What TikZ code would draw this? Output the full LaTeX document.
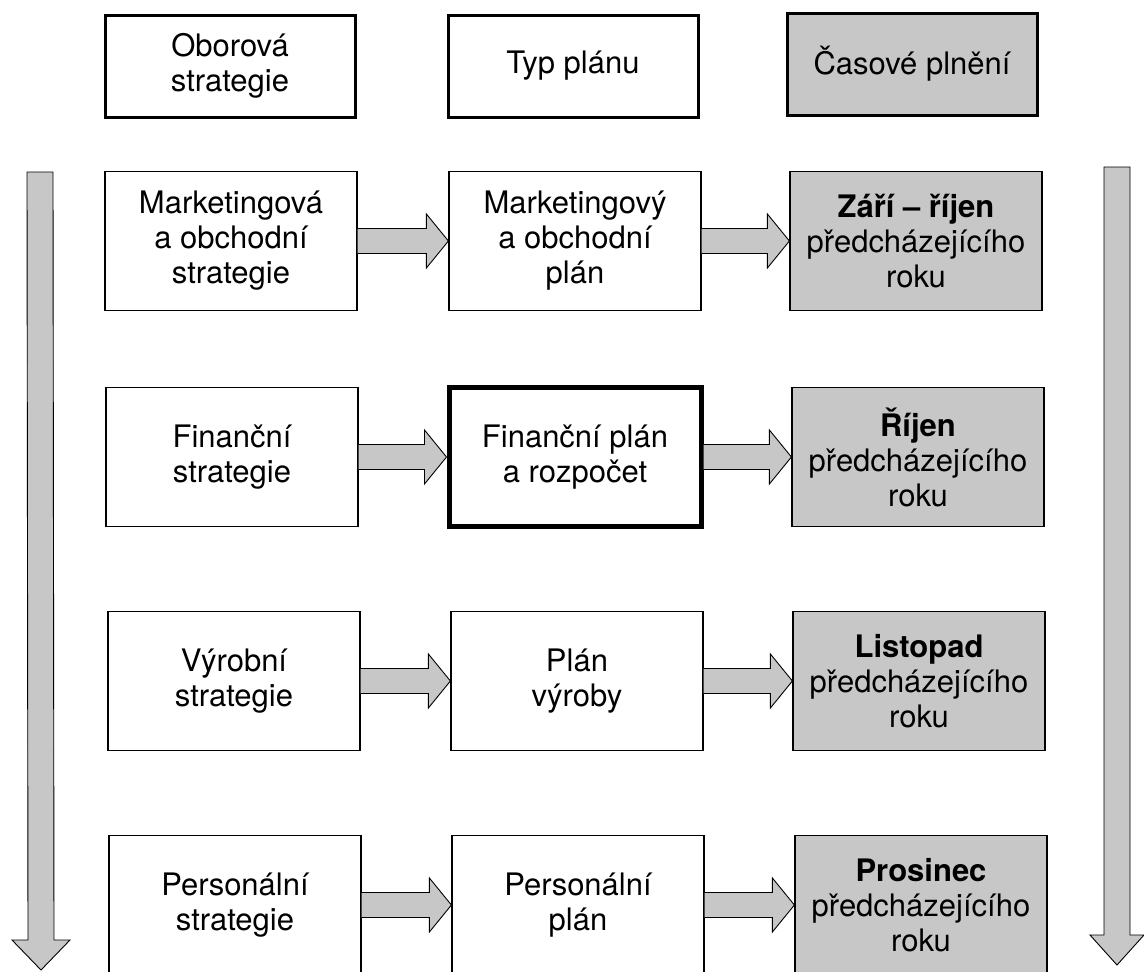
\documentclass[tikz,border=0pt]{standalone}
\usepackage{fontspec}
\setmainfont{TeX Gyre Heros}
\usetikzlibrary{calc}
\definecolor{dotgray}{gray}{0.78}
\tikzset{
  txt/.style={font=\fontsize{31}{35}\selectfont, align=center, inner sep=0pt},
  box/.style={txt, draw, line width=1.2pt, minimum width=252pt, minimum height=139pt},
  hdr/.style={txt, draw, line width=3pt, minimum width=250pt, minimum height=102pt},
  shade/.style={fill=dotgray},
  heavy/.style={line width=5pt},
  fat/.style={fill=dotgray, draw, line width=0.9pt, line join=miter},
}
\newcommand\fatH[2]{%
  \draw[fat] ($(#1.east)+(0,-12.5)$) -- ($(#2.west)+(-22,-12.5)$) -- ($(#2.west)+(-22,-27)$)
    -- (#2.west) -- ($(#2.west)+(-22,27)$) -- ($(#2.west)+(-22,12.5)$) -- ($(#1.east)+(0,12.5)$);}
\begin{document}
\begin{tikzpicture}[x=1pt,y=-1pt]
\useasboundingbox (0,0) rectangle (1144,972);
\clip (0,0) rectangle (1144,972);
% headers
\node[hdr] (h1) at (230,66) {Oborová\\strategie};
\node[hdr] (h2) at (573,66) {Typ plánu};
\node[hdr, shade] (h3) at (912,64) {Časové plnění};
% rows
\node[box] (s1) at (231,241) {Marketingová\\a obchodní\\strategie};
\node[box] (p1) at (575,241) {Marketingový\\a obchodní\\plán};
\node[box, shade] (t1) at (916,241) {\textbf{Září – říjen}\\předcházejícího\\roku};

\node[box] (s2) at (232,457) {Finanční\\strategie};
\node[box, heavy] (p2) at (575,457) {Finanční plán\\a rozpočet};
\node[box, shade] (t2) at (918,457) {\textbf{Říjen}\\předcházejícího\\roku};

\node[box] (s3) at (234,681) {Výrobní\\strategie};
\node[box] (p3) at (577,681) {Plán\\výroby};
\node[box, shade] (t3) at (919,681) {\textbf{Listopad}\\předcházejícího\\roku};

\node[box] (s4) at (235,905) {Personální\\strategie};
\node[box] (p4) at (578,905) {Personální\\plán};
\node[box, shade] (t4) at (921,905) {\textbf{Prosinec}\\předcházejícího\\roku};
% horizontal arrows
\fatH{s1}{p1}\fatH{p1}{t1}
\fatH{s2}{p2}\fatH{p2}{t2}
\fatH{s3}{p3}\fatH{p3}{t3}
\fatH{s4}{p4}\fatH{p4}{t4}
% vertical arrows
\coordinate (L0) at (40,172); \coordinate (L1) at (41,970);
\draw[fat] ($(L0)+(-13,0)$) -- ($(L1)+(-13,-30)$) -- ($(L1)+(-29,-30)$) -- (L1)
  -- ($(L1)+(29,-30)$) -- ($(L1)+(13,-30)$) -- ($(L0)+(13,0)$) -- cycle;
\coordinate (R0) at (1117,167); \coordinate (R1) at (1117,965);
\draw[fat] ($(R0)+(-13,0)$) -- ($(R1)+(-13,-30)$) -- ($(R1)+(-27,-30)$) -- (R1)
  -- ($(R1)+(27,-30)$) -- ($(R1)+(13,-30)$) -- ($(R0)+(13,0)$) -- cycle;
\end{tikzpicture}
\end{document}
